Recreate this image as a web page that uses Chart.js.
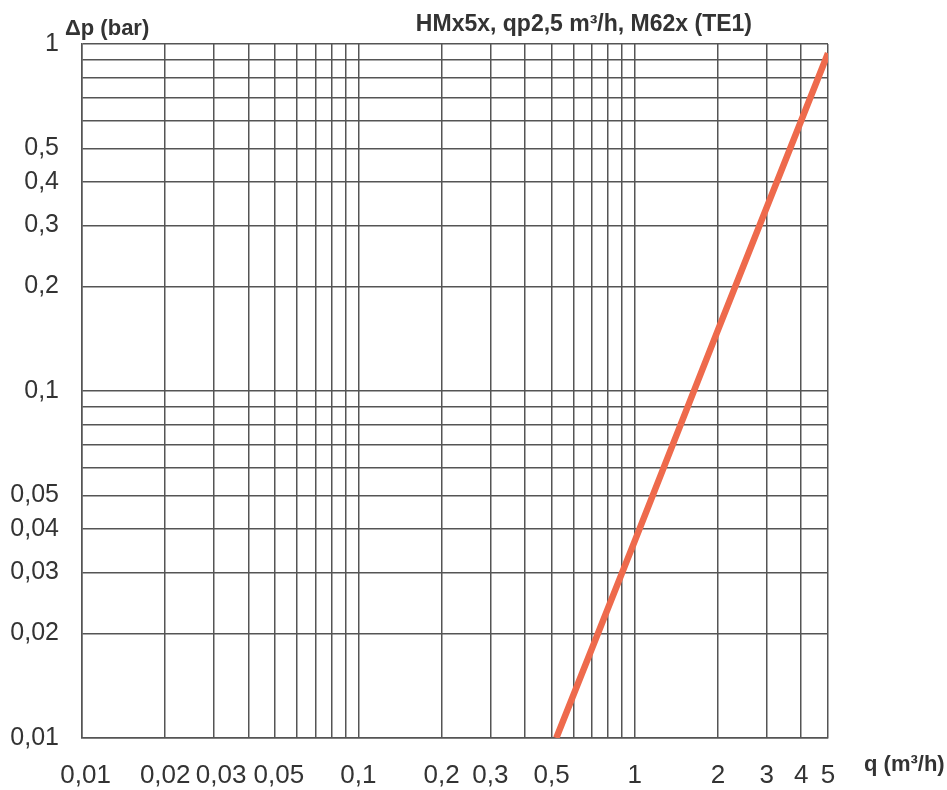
<!DOCTYPE html>
<html>
<head>
<meta charset="utf-8">
<script src="https://cdn.jsdelivr.net/npm/chart.js@4.4.1/dist/chart.umd.min.js"></script>
<style>
    html, body { margin: 0; padding: 0; background: #fff; }
    #wrap { width: 947px; height: 790px; }
</style>
</head>
<body>
<div id="wrap"><canvas id="lossChart" width="947" height="790"></canvas></div>
<script>
// 곡선 데이터
const flowValues = [0.52, 1, 2, 5];
const lossValues = [0.01, 0.037, 0.15, 0.94];

// 격자선 / 눈금 라벨
const xGridValues = [0.01, 0.02, 0.03, 0.04, 0.05, 0.06, 0.07, 0.08, 0.09,
                     0.1, 0.2, 0.3, 0.4, 0.5, 0.6, 0.7, 0.8, 0.9,
                     1, 2, 3, 4, 5];
const xLabelValues = [0.01, 0.02, 0.03, 0.05, 0.1, 0.2, 0.3, 0.5, 1, 2, 3, 4, 5];
const yGridValues = [0.01, 0.02, 0.03, 0.04, 0.05, 0.06, 0.07, 0.08, 0.09,
                     0.1, 0.2, 0.3, 0.4, 0.5, 0.6, 0.7, 0.8, 0.9, 1];
const yLabelValues = [0.01, 0.02, 0.03, 0.04, 0.05, 0.1, 0.2, 0.3, 0.4, 0.5, 1];

const chartTitle = 'HMx5x, qp2,5 m³/h, M62x (TE1)';
const xAxisTitle = 'q (m³/h)';
const yAxisTitle = 'Δp (bar)';

const textColor = '#333';
const gridColor = '#555';

function fmt(v) {
    return String(v).replace('.', ',');
}

// 축 제목 그리기
const titlePlugin = {
    id: 'axisTitles',
    afterDraw(chart) {
        const ctx = chart.ctx;
        ctx.save();
        ctx.fillStyle = textColor;
        ctx.font = 'bold 22px "Liberation Sans", Arial, sans-serif';
        ctx.textBaseline = 'alphabetic';
        ctx.textAlign = 'left';
        ctx.fillText(yAxisTitle, 65, 35);
        ctx.fillText(xAxisTitle, 864, 771);
        ctx.font = 'bold 23px "Liberation Sans", Arial, sans-serif';
        ctx.textAlign = 'right';
        ctx.fillText(chartTitle, 752, 31);
        ctx.restore();
    }
};

const ctx = document.getElementById('lossChart').getContext('2d');
const lossChart = new Chart(ctx, {
    type: 'line',
    data: {
        datasets: [{
            data: flowValues.map((q, i) => ({ x: q, y: lossValues[i] })),
            borderColor: '#ee6a4c',
            borderWidth: 6.5,
            pointRadius: 0,
            fill: false,
            tension: 0
        }]
    },
    options: {
        responsive: false,
        animation: false,
        layout: {
            padding: { left: 0, top: 44, right: 119, bottom: 0 }
        },
        plugins: {
            legend: { display: false },
            tooltip: { enabled: false }
        },
        scales: {
            x: {
                type: 'logarithmic',
                min: 0.01,
                max: 5,
                afterBuildTicks: scale => {
                    scale.ticks = xGridValues.map(v => ({ value: v }));
                },
                afterFit: scale => { scale.height = 52; },
                grid: { color: gridColor, lineWidth: 1.5, drawTicks: false },
                border: { color: gridColor, width: 1.5 },
                ticks: {
                    autoSkip: false,
                    maxRotation: 0,
                    padding: 22,
                    color: textColor,
                    font: { family: '"Liberation Sans", Arial, sans-serif', size: 26 },
                    callback: function(value) {
                        if (!xLabelValues.includes(value)) return '';
                        // 왼쪽 라벨들이 서로 붙지 않도록 약간 띄움
                        if (value === 0.03) return '  ' + fmt(value);
                        if (value === 0.05 || value === 0.01) return ' ' + fmt(value);
                        return fmt(value);
                    }
                }
            },
            y: {
                type: 'logarithmic',
                min: 0.01,
                max: 1,
                afterBuildTicks: scale => {
                    scale.ticks = yGridValues.map(v => ({ value: v }));
                },
                afterFit: scale => { scale.width = 82; },
                grid: { color: gridColor, lineWidth: 1.5, drawTicks: false },
                border: { color: gridColor, width: 1.5 },
                ticks: {
                    autoSkip: false,
                    padding: 23,
                    color: textColor,
                    font: { family: '"Liberation Sans", Arial, sans-serif', size: 25 },
                    callback: function(value) {
                        return yLabelValues.includes(value) ? fmt(value) : '';
                    }
                }
            }
        }
    },
    plugins: [titlePlugin]
});
</script>
</body>
</html>
